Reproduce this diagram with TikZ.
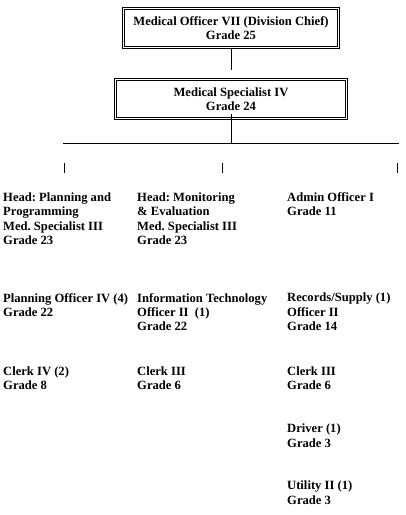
\documentclass[tikz,border=0pt]{standalone}
\usepackage{fontspec}
\setmainfont{Liberation Serif}
\usetikzlibrary{positioning}
\frenchspacing
\begin{document}
\begin{tikzpicture}[x=1pt,y=-1pt,
  post/.style={draw,double,line width=0.7pt,double distance=1.4pt,
    align=center,inner sep=0pt},
  unit/.style={anchor=north west,align=left,inner sep=0pt},
  every node/.style={font=\fontsize{12.6}{14.3}\selectfont\bfseries}]
  \useasboundingbox (0,0) rectangle (406,515);
  % boxes at the top
  \node [post,minimum width=215,minimum height=39] (chief) at (231,28)
    {Medical Officer VII (Division Chief)\\Grade 25};
  \node [post,minimum width=231,minimum height=39] (spec) at (231,99)
    {Medical Specialist IV\\Grade 24};
  \coordinate (chiefend) at (231,70);
  \coordinate (specstart) at (231,114);
  \coordinate (barmid) at (231,143);
  \coordinate (barleft) at (63,143);
  \coordinate (barright) at (399,143);
  \draw [line width=0.6pt] (chief.south) -- (chiefend);
  \draw [line width=0.6pt] (specstart) -- (barmid);
  \draw [line width=0.6pt] (barleft) -- (barright);
  % ticks
  \foreach \x/\name in {64/ticka,222/tickb,397/tickc} {
    \coordinate (\name top) at (\x,163);
    \coordinate (\name bot) at (\x,173);
    \draw [line width=0.5pt] (\name top) -- (\name bot);
  }
  % first column
  \node [unit] (plan) at (3,192.5)
    {Head: Planning and\\Programming\\Med. Specialist III\\Grade 23};
  \node [unit] (planoff) at (3,293)
    {Planning Officer IV (4)\\Grade 22};
  \node [unit] (clerka) at (3,366.5)
    {Clerk IV (2)\\Grade 8};
  % second column
  \node [unit] (monit) at (137,192.5)
    {Head: Monitoring\\\& Evaluation\\Med. Specialist III\\Grade 23};
  \node [unit] (infotech) at (137,293)
    {Information Technology\\Officer II\ \ (1)\\Grade 22};
  \node [unit] (clerkb) at (137,366.5)
    {Clerk III\\Grade 6};
  % third column
  \node [unit] (admin) at (287,192.5)
    {Admin Officer I\\Grade 11};
  \node [unit] (records) at (287,293)
    {Records/Supply (1)\\Officer II\\Grade 14};
  \node [unit] (clerkc) at (287,366.5)
    {Clerk III\\Grade 6};
  \node [unit] (driver) at (287,424)
    {Driver (1)\\Grade 3};
  \node [unit] (utility) at (287,481)
    {Utility II (1)\\Grade 3};
\end{tikzpicture}
\end{document}
